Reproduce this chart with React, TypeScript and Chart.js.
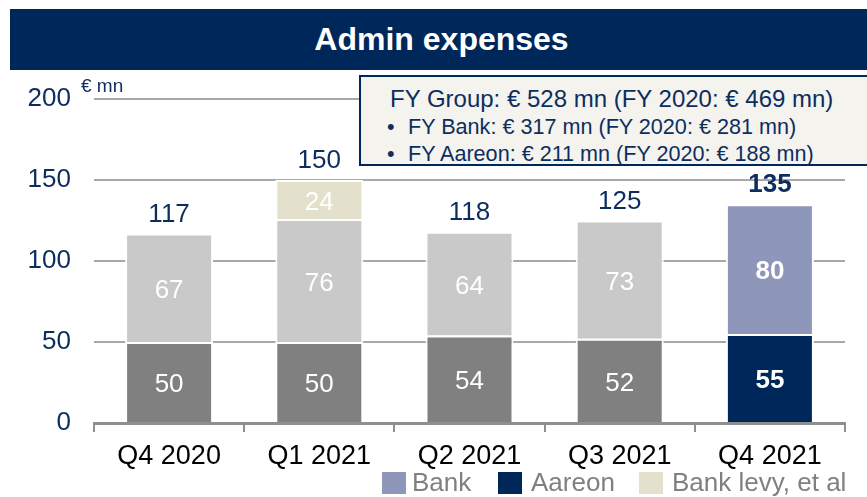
import React, { useEffect, useRef } from "react";
import { Chart, registerables } from "chart.js";

Chart.register(...registerables);

const categories = ["Q4 2020", "Q1 2021", "Q2 2021", "Q3 2021", "Q4 2021"];
const aareonValues = [50, 50, 54, 52, 55];
const bankValues = [67, 76, 64, 73, 80];
const levyValues = [0, 24, 0, 0, 0];
const yTickValues = [0, 50, 100, 150, 200];
const highlightIndex = 4;

const summaryMain = "FY Group: € 528 mn (FY 2020: € 469 mn)";
const summaryBullets = [
  "FY Bank: € 317 mn (FY 2020: € 281 mn)",
  "FY Aareon: € 211 mn (FY 2020: € 188 mn)",
];
const legendItems = [
  { label: "Bank", color: "#8e96b9" },
  { label: "Aareon", color: "#00275a" },
  { label: "Bank levy, et al", color: "#e3e0cc" },
];

const FONT = "'Liberation Sans', Arial, Helvetica, sans-serif";
const NAVY = "#00275a";
const TEXT_NAVY = "#0d2d5e";
const DARK_GRAY = "#808080";
const LIGHT_GRAY = "#c9c9c9";
const LAVENDER = "#8e96b9";
const BEIGE = "#e3e0cc";

const totals = categories.map((_, i) => aareonValues[i] + bankValues[i] + levyValues[i]);

const labelPlugin = {
  id: "barLabels",
  afterDatasetsDraw(chart: any) {
    const ctx = chart.ctx;
    const yScale = chart.scales.y;
    ctx.save();
    ctx.textAlign = "center";
    ctx.textBaseline = "middle";
    chart.data.datasets.forEach((ds: any, di: number) => {
      const meta = chart.getDatasetMeta(di);
      meta.data.forEach((el: any, i: number) => {
        const v = ds.data[i];
        if (v === null || v === undefined || v === 0) return;
        const bold = i === highlightIndex;
        ctx.font = `${bold ? "bold " : ""}26px ${FONT}`;
        ctx.fillStyle = "#ffffff";
        ctx.fillText(String(v), el.x, (el.y + el.base) / 2 + 3);
      });
    });
    const meta0 = chart.getDatasetMeta(0);
    totals.forEach((t, i) => {
      const el = meta0.data[i];
      const bold = i === highlightIndex;
      ctx.font = `${bold ? "bold " : ""}26px ${FONT}`;
      ctx.fillStyle = TEXT_NAVY;
      ctx.fillText(String(t), el.x, yScale.getPixelForValue(t) - 19);
    });
    ctx.restore();
  },
};

export default function App() {
  const canvasRef = useRef<HTMLCanvasElement | null>(null);

  useEffect(() => {
    if (!canvasRef.current) return;
    const perBar = (base: string, hi: string) =>
      categories.map((_, i) => (i === highlightIndex ? hi : base));
    const chart = new Chart(canvasRef.current, {
      type: "bar",
      data: {
        labels: categories,
        datasets: [
          {
            label: "Aareon",
            data: aareonValues,
            backgroundColor: perBar(DARK_GRAY, NAVY),
            borderColor: "#ffffff",
            borderWidth: 2,
          },
          {
            label: "Bank",
            data: bankValues,
            backgroundColor: perBar(LIGHT_GRAY, LAVENDER),
            borderColor: "#ffffff",
            borderWidth: 2,
          },
          {
            label: "Bank levy, et al",
            data: levyValues.map((v) => (v === 0 ? null : v)),
            backgroundColor: BEIGE,
            borderColor: "#ffffff",
            borderWidth: 2,
          },
        ],
      },
      options: {
        responsive: false,
        animation: false,
        devicePixelRatio: 1,
        layout: { padding: { left: 0, right: 22, top: 99, bottom: 0 } },
        datasets: { bar: { barPercentage: 0.586, categoryPercentage: 1 } },
        plugins: {
          legend: { display: false },
          title: { display: false },
          tooltip: { enabled: false },
        },
        scales: {
          x: {
            stacked: true,
            border: { display: true, color: "#8f8f8f", width: 3 },
            grid: {
              drawOnChartArea: false,
              drawTicks: true,
              tickLength: 9,
              offset: true,
              color: "#8f8f8f",
              lineWidth: 2,
            },
            ticks: {
              color: "#000000",
              font: { family: FONT, size: 27 },
              padding: 8,
              maxRotation: 0,
            },
            afterFit: (scale: any) => {
              scale.height = 74;
            },
          },
          y: {
            stacked: true,
            min: 0,
            max: 200,
            border: { display: false },
            grid: { drawTicks: false, color: "#a8a8a8", lineWidth: 2 },
            afterBuildTicks: (scale: any) => {
              scale.ticks = yTickValues.map((v) => ({ value: v }));
            },
            ticks: {
              color: TEXT_NAVY,
              font: { family: FONT, size: 26 },
              padding: 23,
            },
            afterFit: (scale: any) => {
              scale.width = 94;
            },
          },
        },
      },
      plugins: [labelPlugin],
    } as any);
    return () => chart.destroy();
  }, []);

  return (
    <div
      style={{
        position: "fixed",
        left: 0,
        top: 0,
        width: 867,
        height: 497,
        overflow: "hidden",
        background: "#ffffff",
        fontFamily: FONT,
      }}
    >
      <canvas
        ref={canvasRef}
        width={867}
        height={497}
        style={{ position: "absolute", left: 0, top: 0, width: 867, height: 497 }}
      />
      <div
        style={{
          position: "absolute",
          left: 10,
          top: 9,
          width: 857,
          height: 61,
          background: NAVY,
          color: "#ffffff",
          fontWeight: "bold",
          fontSize: 32,
          lineHeight: "61px",
          textAlign: "center",
          paddingLeft: 6,
          boxSizing: "border-box",
        }}
      >
        Admin expenses
      </div>
      <div
        style={{
          position: "absolute",
          left: 81,
          top: 75,
          fontSize: 19,
          color: TEXT_NAVY,
          lineHeight: "22px",
        }}
      >
        € mn
      </div>
      <div
        style={{
          position: "absolute",
          left: 359,
          top: 75,
          width: 530,
          height: 91,
          background: "#f4f3ee",
          border: `2px solid ${NAVY}`,
          boxSizing: "border-box",
          color: TEXT_NAVY,
        }}
      >
        <div
          style={{
            position: "absolute",
            left: 29,
            top: 8,
            fontSize: 24,
            lineHeight: "28px",
            whiteSpace: "nowrap",
          }}
        >
          {summaryMain}
        </div>
        {summaryBullets.map((b, i) => (
          <div
            key={b}
            style={{
              position: "absolute",
              left: 26,
              top: 37 + i * 27,
              fontSize: 21.6,
              lineHeight: "25px",
              whiteSpace: "nowrap",
            }}
          >
            <span style={{ display: "inline-block", width: 21 }}>•</span>
            {b}
          </div>
        ))}
      </div>
      {legendItems.map((it, i) => {
        const sq = [382, 498, 639][i];
        return (
          <div key={it.label}>
            <div
              style={{
                position: "absolute",
                left: sq,
                top: 472,
                width: 24,
                height: 22,
                background: it.color,
              }}
            />
            <div
              style={{
                position: "absolute",
                left: sq + (i === 0 ? 30 : 33),
                top: 467,
                fontSize: 26,
                lineHeight: "30px",
                color: "#808080",
                whiteSpace: "nowrap",
              }}
            >
              {it.label}
            </div>
          </div>
        );
      })}
    </div>
  );
}
